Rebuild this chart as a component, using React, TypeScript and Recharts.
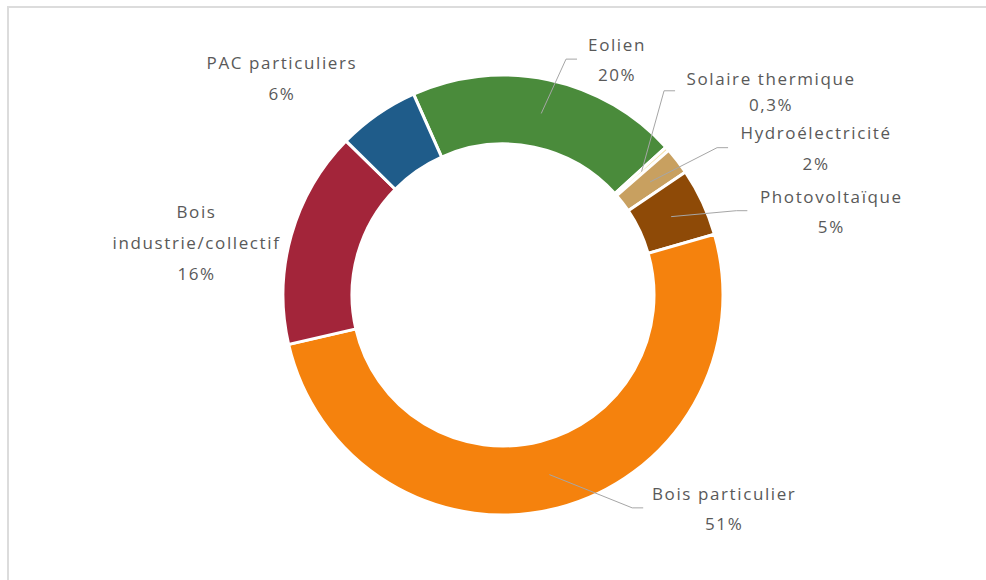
import React from 'react';
import { PieChart, Pie, Cell } from 'recharts';

const categories = [
  'Eolien',
  'Solaire thermique',
  'Hydroélectricité',
  'Photovoltaïque',
  'Bois particulier',
  'Bois industrie/collectif',
  'PAC particuliers',
];
const values = [20, 0.3, 2, 5, 51, 16, 6];
const valueLabels = ['20%', '0,3%', '2%', '5%', '51%', '16%', '6%'];
const labelLines = [
  ['Eolien'],
  ['Solaire thermique'],
  ['Hydroélectricité'],
  ['Photovoltaïque'],
  ['Bois particulier'],
  ['Bois', 'industrie/collectif'],
  ['PAC particuliers'],
];

const colors = ['#4A8B3B', '#F3DFA6', '#C8A060', '#8E4A07', '#F5820D', '#A3253A', '#1F5C8A'];

// label placement: polar position of label centre relative to pie centre
const labelLayout = [
  { angle: 64.2, radius: 262, spacing: 30, leader: true, attachDx: -40 },
  { angle: 37.3, radius: 337, spacing: 26, leader: true, attachDx: -96 },
  { angle: 25.2, radius: 346, spacing: 31, leader: true, attachDx: -88 },
  { angle: 14.4, radius: 339, spacing: 30, leader: true, attachDx: -84 },
  { angle: -43.9, radius: 307, spacing: 30, leader: true, attachDx: -81 },
  { angle: 170.2, radius: 311, spacing: 31, leader: false, attachDx: 0 },
  { angle: 135.5, radius: 310, spacing: 31, leader: false, attachDx: 0 },
];

const data = categories.map((name, i) => ({ name, value: values[i] }));

const RAD = Math.PI / 180;

const renderLabel = (props: any) => {
  const { cx, cy, midAngle, innerRadius, outerRadius, index } = props;
  const lay = labelLayout[index];
  const lx = cx + lay.radius * Math.cos(lay.angle * RAD);
  const ly = cy - lay.radius * Math.sin(lay.angle * RAD);
  const lines = [...labelLines[index], valueLabels[index]];
  const n = lines.length;
  const top = ly - ((n - 1) * lay.spacing) / 2;
  const midR = (innerRadius + outerRadius) / 2;
  const px = cx + midR * Math.cos(midAngle * RAD);
  const py = cy - midR * Math.sin(midAngle * RAD);
  const ax = lx + lay.attachDx;
  return (
    <g key={`lbl-${index}`}>
      {lay.leader && (
        <polyline
          points={`${ax},${ly} ${ax - 11},${ly} ${px},${py}`}
          fill="none"
          stroke="#A6A6A6"
          strokeWidth={1}
        />
      )}
      <text
        x={lx}
        y={top}
        textAnchor="middle"
        dominantBaseline="central"
        fill="#595959"
        style={{ fontFamily: 'Open Sans, sans-serif', fontSize: 17, letterSpacing: 1.6 }}
      >
        {lines.map((t, k) => (
          <tspan key={k} x={lx} y={top + k * lay.spacing}>
            {t}
          </tspan>
        ))}
      </text>
    </g>
  );
};

export default function App() {
  return (
    <div style={{ position: 'absolute', left: 0, top: 0, width: 986, height: 580, background: '#fff', overflow: 'hidden' }}>
      <div
        style={{
          position: 'absolute',
          left: 7,
          top: 6,
          width: 986,
          height: 580,
          borderTop: '2px solid #DCDCDC',
          borderLeft: '2px solid #DCDCDC',
        }}
      />
      <div style={{ position: 'absolute', left: 0, top: 0 }}>
        <PieChart width={986} height={580} margin={{ top: 0, right: 0, bottom: 0, left: 0 }}>
          <Pie
            data={data}
            dataKey="value"
            nameKey="name"
            cx={503}
            cy={295}
            innerRadius={151}
            outerRadius={220}
            startAngle={114}
            endAngle={-246}
            stroke="#FFFFFF"
            strokeWidth={3}
            isAnimationActive={false}
            label={renderLabel}
            labelLine={false}
          >
            {data.map((d, i) => (
              <Cell key={d.name} fill={colors[i]} />
            ))}
          </Pie>
        </PieChart>
      </div>
    </div>
  );
}
